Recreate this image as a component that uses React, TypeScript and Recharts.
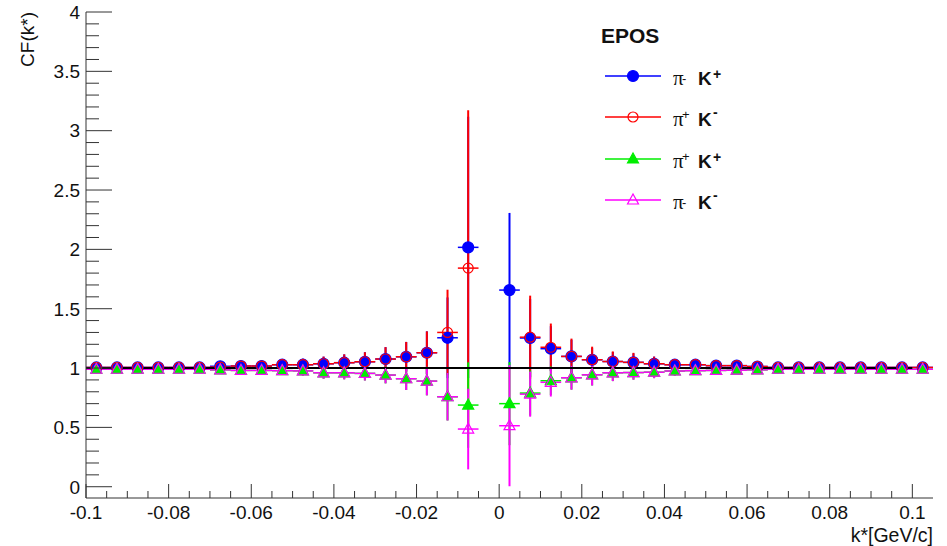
import { ScatterChart, Scatter, XAxis, YAxis, ErrorBar, ReferenceLine, Label } from "recharts";

// bin centres of k* [GeV/c], bin width 0.005
const binCenters = [
  -0.0975, -0.0925, -0.0875, -0.0825, -0.0775, -0.0725, -0.0675, -0.0625, -0.0575, -0.0525,
  -0.0475, -0.0425, -0.0375, -0.0325, -0.0275, -0.0225, -0.0175, -0.0125, -0.0075, -0.0025,
  0.0025, 0.0075, 0.0125, 0.0175, 0.0225, 0.0275, 0.0325, 0.0375, 0.0425, 0.0475,
  0.0525, 0.0575, 0.0625, 0.0675, 0.0725, 0.0775, 0.0825, 0.0875, 0.0925, 0.0975, 0.1025,
];
const binHalfWidth = 0.0025;

// pi- K+
const pimKp = [
  1.005, 1.005, 1.005, 1.005, 1.005, 1.005, 1.015, 1.017, 1.017, 1.028,
  1.028, 1.036, 1.045, 1.053, 1.076, 1.095, 1.129, 1.255, 2.017, null,
  1.657, 1.253, 1.163, 1.098, 1.07, 1.055, 1.048, 1.036, 1.028, 1.028,
  1.02, 1.02, 1.013, 1.005, 1.005, 1.005, 1.005, 1.005, 1.005, 1.005, 1.005,
];
const pimKpErr = [
  0.01, 0.01, 0.01, 0.01, 0.01, 0.01, 0.01, 0.02, 0.025, 0.04,
  0.05, 0.06, 0.07, 0.08, 0.1, 0.125, 0.18, 0.34, 1.1, null,
  0.65, 0.33, 0.19, 0.14, 0.1, 0.08, 0.075, 0.06, 0.045, 0.035,
  0.03, 0.025, 0.02, 0.01, 0.01, 0.01, 0.01, 0.01, 0.01, 0.01, 0.01,
];

// pi+ K-
const pipKm = [
  1.005, 1.005, 1.005, 1.005, 1.005, 1.005, 1.008, 1.017, 1.017, 1.028,
  1.028, 1.036, 1.045, 1.053, 1.076, 1.095, 1.129, 1.3, 1.842, null,
  null, 1.26, 1.175, 1.098, 1.07, 1.055, 1.048, 1.036, 1.028, 1.028,
  1.02, 1.02, 1.013, 1.005, 1.005, 1.005, 1.005, 1.005, 1.005, 1.005, 1.005,
];
const pipKmErr = [
  0.01, 0.01, 0.01, 0.01, 0.01, 0.01, 0.01, 0.02, 0.025, 0.04,
  0.05, 0.06, 0.07, 0.08, 0.1, 0.125, 0.18, 0.36, 1.33, null,
  null, 0.35, 0.2, 0.15, 0.11, 0.085, 0.08, 0.06, 0.045, 0.035,
  0.03, 0.025, 0.02, 0.01, 0.01, 0.01, 0.01, 0.01, 0.01, 0.01, 0.01,
];

// pi+ K+
const pipKp = [
  0.99, 0.99, 0.99, 0.99, 0.99, 0.99, 0.985, 0.98, 0.98, 0.978,
  0.976, 0.96, 0.96, 0.955, 0.941, 0.91, 0.89, 0.758, 0.688, null,
  0.7, 0.789, 0.893, 0.918, 0.943, 0.96, 0.962, 0.965, 0.975, 0.978,
  0.98, 0.982, 0.985, 0.99, 0.99, 0.99, 0.99, 0.99, 0.99, 0.99, 0.99,
];
const pipKpErr = [
  0.012, 0.012, 0.012, 0.012, 0.012, 0.012, 0.012, 0.02, 0.025, 0.03,
  0.04, 0.05, 0.055, 0.06, 0.07, 0.095, 0.12, 0.2, 0.36, null,
  0.35, 0.19, 0.12, 0.1, 0.09, 0.07, 0.06, 0.05, 0.04, 0.035,
  0.03, 0.025, 0.02, 0.012, 0.012, 0.012, 0.012, 0.012, 0.012, 0.012, 0.012,
];

// pi- K-
const pimKm = [
  0.99, 0.99, 0.99, 0.99, 0.99, 0.99, 0.985, 0.98, 0.98, 0.978,
  0.976, 0.96, 0.96, 0.955, 0.941, 0.91, 0.89, 0.758, 0.486, null,
  0.514, 0.78, 0.88, 0.918, 0.943, 0.96, 0.962, 0.965, 0.975, 0.978,
  0.98, 0.982, 0.985, 0.99, 0.99, 0.99, 0.99, 0.99, 0.99, 0.99, 0.99,
];
const pimKmErr = [
  0.012, 0.012, 0.012, 0.012, 0.012, 0.012, 0.012, 0.02, 0.025, 0.03,
  0.04, 0.05, 0.055, 0.06, 0.07, 0.095, 0.12, 0.2, 0.34, null,
  0.51, 0.19, 0.12, 0.1, 0.09, 0.07, 0.06, 0.05, 0.04, 0.035,
  0.03, 0.025, 0.02, 0.012, 0.012, 0.012, 0.012, 0.012, 0.012, 0.012, 0.012,
];

const xTickLabels = ["-0.1", "-0.08", "-0.06", "-0.04", "-0.02", "0", "0.02", "0.04", "0.06", "0.08", "0.1"];
const yTickLabels = ["0", "0.5", "1", "1.5", "2", "2.5", "3", "3.5", "4"];

// minor ticks every 0.005 in x and 0.1 in y
const xTicks = Array.from({ length: 41 }, (_, i) => Math.round((-0.1 + i * 0.005) * 1000) / 1000);
const yTicks = Array.from({ length: 41 }, (_, i) => i / 10);

const FONT = "'Liberation Sans', Arial, Helvetica, sans-serif";
const AXIS = "#333";

function toPoints(vals: (number | null)[], errs: (number | null)[]) {
  const out: { x: number; y: number; ey: number; ex: number }[] = [];
  vals.forEach((v, i) => {
    if (v == null) return;
    out.push({ x: binCenters[i], y: v, ey: errs[i] ?? 0, ex: binHalfWidth });
  });
  return out;
}

function marker(kind: "circle" | "triangle", color: string, filled: boolean) {
  return (props: any) => {
    const { cx, cy } = props;
    if (cx == null || cy == null) return <g />;
    if (kind === "circle") {
      return <circle cx={cx} cy={cy} r={filled ? 5.5 : 5} fill={filled ? color : "none"} stroke={color} strokeWidth={1.2} />;
    }
    const pts = `${cx},${cy - 6} ${cx - 5.5},${cy + 4} ${cx + 5.5},${cy + 4}`;
    return <polygon points={pts} fill={filled ? color : "none"} stroke={color} strokeWidth={1.2} />;
  };
}

function XTick(props: any) {
  const { x, y, index } = props;
  const major = index % 4 === 0;
  return (
    <g>
      <line x1={x} x2={x} y1={y} y2={y - (major ? 14 : 7)} stroke={AXIS} />
      {major && (
        <text x={x} y={y + 20.5} textAnchor="middle" fontSize={19} fill="#111" fontFamily={FONT}>
          {xTickLabels[index / 4]}
        </text>
      )}
    </g>
  );
}

function YTick(props: any) {
  const { x, y, index } = props;
  const major = index % 5 === 0;
  return (
    <g>
      <line x1={x} x2={x + (major ? 26 : 13)} y1={y} y2={y} stroke={AXIS} />
      {major && (
        <text x={x - 6} y={y + 6.8} textAnchor="end" fontSize={19} fill="#111" fontFamily={FONT}>
          {yTickLabels[index / 5]}
        </text>
      )}
    </g>
  );
}

const series = [
  { name: "pimKp", data: toPoints(pimKp, pimKpErr), color: "#0000ff", kind: "circle" as const, filled: true },
  { name: "pipKm", data: toPoints(pipKm, pipKmErr), color: "#ff0000", kind: "circle" as const, filled: false },
  { name: "pipKp", data: toPoints(pipKp, pipKpErr), color: "#00ee00", kind: "triangle" as const, filled: true },
  { name: "pimKm", data: toPoints(pimKm, pimKmErr), color: "#ff00ff", kind: "triangle" as const, filled: false },
];

function LegendRow({ y, s, piSup, kSup }: { y: number; s: (typeof series)[number]; piSup: string; kSup: string }) {
  const Mark = marker(s.kind, s.color, s.filled);
  return (
    <g>
      <line x1={605} x2={661} y1={y} y2={y} stroke={s.color} strokeWidth={1.5} />
      <Mark cx={633} cy={y} />
      <text x={673} y={y + 9} fontSize={21} fontFamily="'Liberation Serif', 'Times New Roman', serif" fill="#111">π</text>
      <text x={682} y={piSup === "+" ? y + 2 : y + 7} fontSize={13} fontFamily={FONT} fill="#111">{piSup}</text>
      <text x={698} y={y + 9} fontSize={19} fontWeight="bold" fontFamily={FONT} fill="#111">K</text>
      <text x={713} y={kSup === "+" ? y + 3 : y} fontSize={14} fontWeight="bold" fontFamily={FONT} fill="#111">{kSup}</text>
    </g>
  );
}

export default function App() {
  return (
    <div style={{ position: "absolute", left: 0, top: 0, width: 947, height: 546, background: "#fff" }}>
      <ScatterChart width={947} height={546} margin={{ top: 12, right: 14, bottom: 0, left: 0 }}>
        <XAxis
          type="number"
          dataKey="x"
          domain={[-0.1, 0.105]}
          allowDataOverflow
          ticks={xTicks}
          interval={0}
          tickSize={0}
          tickMargin={0}
          tickLine={false}
          tick={XTick}
          axisLine={{ stroke: AXIS }}
          height={48}
        >
          <Label
            content={(p: any) => {
              const vb = p.viewBox;
              return (
                <text x={vb.x + vb.width} y={vb.y + 43.5} textAnchor="end" fontSize={19.5} fill="#111" fontFamily={FONT}>
                  k*[GeV/c]
                </text>
              );
            }}
          />
        </XAxis>
        <XAxis xAxisId="top" orientation="top" type="number" domain={[-0.1, 0.105]} height={0} tick={false} tickLine={false} axisLine={{ stroke: AXIS }} />
        <YAxis
          type="number"
          dataKey="y"
          domain={[-0.095, 4]}
          allowDataOverflow
          ticks={yTicks}
          interval={0}
          tickSize={0}
          tickMargin={0}
          tickLine={false}
          tick={YTick}
          axisLine={{ stroke: AXIS }}
          width={86}
        >
          <Label
            content={(p: any) => {
              const vb = p.viewBox;
              return (
                <text x={34} y={vb.y} transform={`rotate(-90, 34, ${vb.y})`} textAnchor="end" fontSize={19} fill="#111" fontFamily={FONT}>
                  CF(k*)
                </text>
              );
            }}
          />
        </YAxis>
        <YAxis yAxisId="right" orientation="right" type="number" domain={[-0.095, 4]} width={0} tick={false} tickLine={false} axisLine={{ stroke: AXIS }} />
        {series.map((s) => (
          <Scatter key={s.name} name={s.name} data={s.data} shape={marker(s.kind, s.color, s.filled)} isAnimationActive={false}>
            <ErrorBar dataKey="ey" direction="y" width={0} stroke={s.color} strokeWidth={2} isAnimationActive={false} />
            <ErrorBar dataKey="ex" direction="x" width={0} stroke={s.color} strokeWidth={1.5} isAnimationActive={false} />
          </Scatter>
        ))}
        <ReferenceLine segment={[{ x: -0.1, y: 1 }, { x: 0.1, y: 1 }]} stroke="#000" strokeWidth={2} />
      </ScatterChart>
      <svg width={947} height={546} style={{ position: "absolute", left: 0, top: 0, pointerEvents: "none" }}>
        <text x={601} y={43} fontSize={21} fontWeight="bold" fontFamily={FONT} fill="#111">EPOS</text>
        <LegendRow y={76} s={series[0]} piSup="-" kSup="+" />
        <LegendRow y={117} s={series[1]} piSup="+" kSup="-" />
        <LegendRow y={159} s={series[2]} piSup="+" kSup="+" />
        <LegendRow y={200} s={series[3]} piSup="-" kSup="-" />
      </svg>
    </div>
  );
}
